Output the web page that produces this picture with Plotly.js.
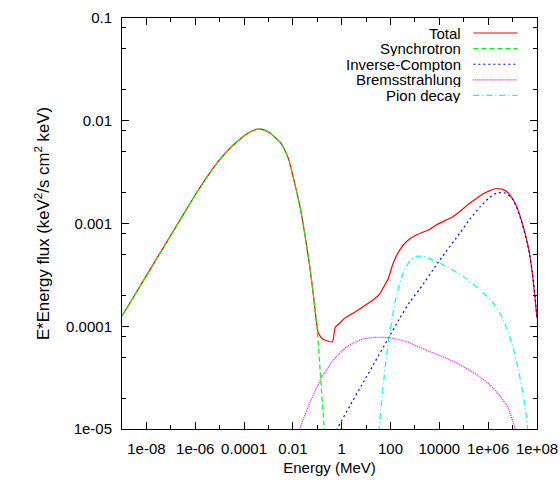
<!DOCTYPE html>
<html><head><meta charset="utf-8">
<script src="https://cdn.plot.ly/plotly-3.0.1.min.js"></script>
<style>html,body{margin:0;padding:0;background:#fff}</style>
</head><body><div id="chart" style="width:560px;height:480px"></div>
<script>
// ---- data (Energy in MeV, E*flux) ----
const syncE = [1e-9, 1e-8, 1e-7, 3.16e-7, 1e-6, 3.16e-6, 1e-5, 3.16e-5, 1e-4, 2e-4, 3.16e-4, 5e-4, 1e-3, 2e-3, 3.16e-3, 5e-3, 7e-3, 1e-2, 0.02, 0.0316, 0.05, 0.07, 0.1, 0.125, 0.151, 0.1875, 0.21];
const syncF = [1.257e-4, 3.11e-4, 7.70e-4, 1.208e-3, 1.896e-3, 2.877e-3, 4.18e-3, 5.65e-3, 7.11e-3, 7.90e-3, 8.23e-3, 8.30e-3, 7.78e-3, 6.80e-3, 6.09e-3, 5.00e-3, 4.09e-3, 2.92e-3, 1.42e-3, 7.59e-4, 3.70e-4, 1.97e-4, 9.2e-5, 4.29e-5, 2.24e-5, 1.09e-5, 6.97e-6];

const totalE = [1e-9, 1e-8, 1e-7, 3.16e-7, 1e-6, 3.16e-6, 1e-5, 3.16e-5, 1e-4, 2e-4, 3.16e-4, 5e-4, 1e-3, 2e-3, 3.16e-3, 5e-3, 7e-3, 1e-2, 0.02, 0.0316, 0.05, 0.07, 0.106, 0.137, 0.171, 0.274, 0.415, 0.551, 0.828, 1.33, 2.91, 7.5, 19.3, 36.4, 58.3, 79.7, 128, 241, 454, 1169, 4112, 7745, 3.72e4, 1.81e5, 6.36e5, 1.92e6, 3.62e6, 6.76e6, 1.27e7, 2.4e7, 4.48e7, 6.18e7, 7.89e7, 1e8];
const totalF = [1.257e-4, 3.11e-4, 7.70e-4, 1.208e-3, 1.896e-3, 2.877e-3, 4.18e-3, 5.65e-3, 7.11e-3, 7.90e-3, 8.23e-3, 8.30e-3, 7.78e-3, 6.80e-3, 6.09e-3, 5.00e-3, 4.09e-3, 2.92e-3, 1.42e-3, 7.59e-4, 3.70e-4, 1.97e-4, 8.86e-5, 7.87e-5, 7.47e-5, 7.19e-5, 7.03e-5, 9.84e-5, 1.07e-4, 1.20e-4, 1.34e-4, 1.55e-4, 1.80e-4, 2.07e-4, 2.53e-4, 2.89e-4, 4.11e-4, 5.54e-4, 6.68e-4, 7.76e-4, 8.78e-4, 9.71e-4, 1.17e-3, 1.58e-3, 1.95e-3, 2.18e-3, 2.16e-3, 1.98e-3, 1.58e-3, 1.04e-3, 5.79e-4, 3.54e-4, 2.10e-4, 1.2e-4];

const icE = [0.3, 0.641, 2.13, 6.63, 20.6, 70.5, 241, 620, 1597, 1.06e4, 7.02e4, 1.81e5, 4.65e5, 9.9e5, 2.32e6, 4.95e6, 9.31e6, 1.5e7, 2.4e7, 4.48e7, 6.35e7, 8.44e7, 1e8];
const icF = [7.28e-6, 1.0e-5, 1.67e-5, 2.68e-5, 4.29e-5, 7.19e-5, 1.20e-4, 1.73e-4, 2.31e-4, 4.43e-4, 8.11e-4, 1.11e-3, 1.45e-3, 1.74e-3, 1.99e-3, 1.98e-3, 1.77e-3, 1.41e-3, 1.02e-3, 5.67e-4, 3.46e-4, 1.93e-4, 1.15e-4];

const bremE = [0.0107, 0.0188, 0.0485, 0.147, 0.439, 1.56, 7.5, 26.6, 93.6, 454, 4112, 2.0e4, 9.59e4, 4.65e5, 1.2e6, 3.08e6, 6.57e6, 1.27e7, 1.69e7];
const bremF = [7.12e-6, 9.97e-6, 1.78e-5, 3.13e-5, 4.64e-5, 6.28e-5, 7.52e-5, 7.81e-5, 7.74e-5, 7.08e-5, 5.65e-5, 4.88e-5, 4.04e-5, 3.21e-5, 2.68e-5, 2.09e-5, 1.60e-5, 1.01e-5, 6.97e-6];

const pionE = [30.1, 34.0, 40.0, 49.7, 68.5, 110, 176, 329, 620, 1169, 2182, 4112, 2.0e4, 9.59e4, 4.65e5, 1.64e6, 4.21e6, 9.31e6, 1.74e7, 2.79e7, 3.85e7, 4.48e7];
const pionF = [6.97e-6, 9.98e-6, 1.53e-5, 2.56e-5, 5.25e-5, 1.10e-4, 2.02e-4, 3.31e-4, 4.33e-4, 4.79e-4, 4.77e-4, 4.53e-4, 3.81e-4, 3.04e-4, 2.26e-4, 1.68e-4, 1.15e-4, 6.83e-5, 3.75e-5, 2.06e-5, 1.22e-5, 7.80e-6];

const seriesNames = ['Total', 'Synchrotron', 'Inverse-Compton', 'Bremsstrahlung', 'Pion decay'];

const xTickVals = [1e-8, 1e-6, 1e-4, 1e-2, 1, 100, 1e4, 1e6, 1e8];
const xTickText = ['1e-08', '1e-06', '0.0001', '0.01', '1', '100', '10000', '1e+06', '1e+08'];
const xMinorVals = [1e-9, 1e-7, 1e-5, 1e-3, 0.1, 10, 1000, 1e5, 1e7];
const yTickVals = [1e-5, 1e-4, 1e-3, 1e-2, 0.1];
const yTickText = ['1e-05', '0.0001', '0.001', '0.01', '0.1'];
const yMinorVals = [2e-5, 5e-5, 8e-5, 2e-4, 5e-4, 8e-4, 2e-3, 5e-3, 8e-3, 2e-2, 5e-2, 8e-2];

// ---- styles ----
const styles = [
  {color: '#ff0000', dash: 'solid'},
  {color: '#00ff00', dash: '5px,3px'},
  {color: '#0000ff', dash: '2px,3px'},
  {color: '#ff00ff', dash: '1px,1px'},
  {color: '#00ffff', dash: '6px,3px,1px,3px'}
];
const xs = [totalE, syncE, icE, bremE, pionE];
const ys = [totalF, syncF, icF, bremF, pionF];

const FONT = 'Liberation Sans, Arial, Helvetica, sans-serif';
// drawn in gnuplot order: Total first, components on top
const traces = xs.map((x, i) => ({
  type: 'scatter', mode: 'lines', x: x, y: ys[i], name: seriesNames[i],
  showlegend: false,
  line: {color: styles[i].color, dash: styles[i].dash, width: 1.2, shape: 'spline', smoothing: 0.5}
}));

// custom legend: text, then the line sample to its right
const legTextX = 0.8225, legX0 = 0.8466, legX1 = 0.953;
const legY = [0.9635, 0.9255, 0.8875, 0.8495, 0.8115];
const annotations = seriesNames.map((n, i) => ({
  xref: 'paper', yref: 'paper', x: legTextX, y: legY[i], xanchor: 'right', yanchor: 'middle',
  text: n, showarrow: false, height: 15, font: {family: FONT, size: 15, color: '#000'}
}));
const shapes = seriesNames.map((n, i) => ({
  type: 'line', xref: 'paper', yref: 'paper', x0: legX0, x1: legX1, y0: legY[i], y1: legY[i],
  line: {color: styles[i].color, dash: styles[i].dash, width: 1.2}
}));

const axisCommon = {
  type: 'log', showgrid: false, zeroline: false, showline: true, linecolor: '#000', linewidth: 1,
  mirror: 'allticks', ticks: 'inside', ticklen: 7, tickwidth: 1, tickcolor: '#000',
  tickfont: {family: FONT, size: 15, color: '#000'}, tickmode: 'array'
};

const layout = {
  width: 560, height: 480,
  margin: {l: 122, r: 23, t: 18, b: 51},
  paper_bgcolor: '#fff', plot_bgcolor: '#fff',
  font: {family: FONT, size: 15, color: '#000'},
  showlegend: false,
  xaxis: Object.assign({}, axisCommon, {
    range: [-9, 8], tickvals: xTickVals, ticktext: xTickText, ticklabelstandoff: 6,
    minor: {tickmode: 'array', tickvals: xMinorVals, ticks: 'inside', ticklen: 4, tickcolor: '#000', tickwidth: 1, showgrid: false},
    title: {text: 'Energy (MeV)', font: {family: FONT, size: 15, color: '#000'}, standoff: 6}
  }),
  yaxis: Object.assign({}, axisCommon, {
    range: [-5, -1], tickvals: yTickVals, ticktext: yTickText, ticklabelstandoff: 6,
    minor: {tickmode: 'array', tickvals: yMinorVals, ticks: 'inside', ticklen: 4, tickcolor: '#000', tickwidth: 1, showgrid: false},
    title: {text: 'E*Energy flux (keV<sup>2</sup>/s cm<sup>2</sup> keV)', font: {family: FONT, size: 16.8, color: '#000'}, standoff: 12}
  }),
  annotations: annotations,
  shapes: shapes
};

Plotly.newPlot('chart', traces, layout, {displayModeBar: false, staticPlot: true});
</script>
</body></html>
